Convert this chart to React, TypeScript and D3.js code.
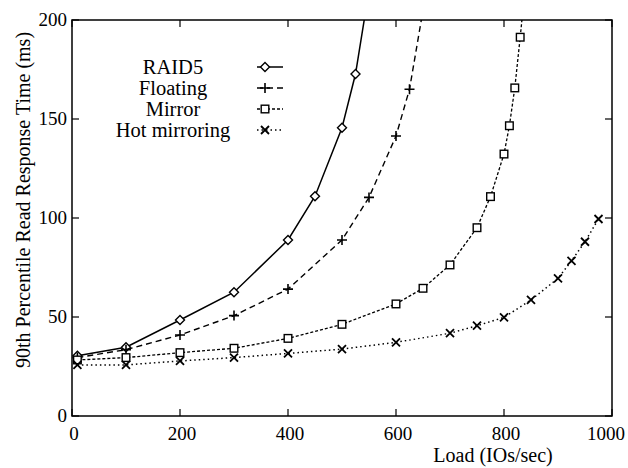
import * as d3 from "d3";

const xTicks = [0, 200, 400, 600, 800, 1000];
const yTicks = [0, 50, 100, 150, 200];

const raid5 = [
  [10, 30.4], [100, 34.7], [200, 48.5], [300, 62.5], [400, 88.9],
  [450, 111], [500, 145.6], [525, 172.7], [550, 215],
];
const floating = [
  [10, 29.5], [100, 33.5], [200, 40.9], [300, 50.7], [400, 64.1],
  [500, 88.9], [550, 110.4], [600, 141.4], [625, 165], [650, 205],
];
const mirror = [
  [10, 28.3], [100, 29.5], [200, 32], [300, 34.2], [400, 39.2],
  [500, 46.3], [600, 56.6], [650, 64.5], [700, 76.3], [750, 95.1],
  [775, 110.8], [800, 132.3], [810, 146.6], [820, 165.7], [830, 191.3], [835, 205],
];
const hotMirroring = [
  [10, 25.8], [100, 25.8], [200, 27.8], [300, 29.5], [400, 31.6],
  [500, 33.8], [600, 37.2], [700, 41.8], [750, 45.6], [800, 49.8],
  [850, 58.6], [900, 69.5], [925, 78.4], [950, 88], [975, 99.5],
];

const seriesNames = ["RAID5", "Floating", "Mirror", "Hot mirroring"];

const W = 628, H = 468;
const L = 72, R = 612, T = 20, B = 416;
const FONT = "'Liberation Serif', 'Times New Roman', serif";

type Pt = number[];

function Marker({ kind, x, y }: { kind: string; x: number; y: number }) {
  if (kind === "diamond")
    return <path d={`M${x},${y - 4.5}L${x + 4.5},${y}L${x},${y + 4.5}L${x - 4.5},${y}Z`} fill="white" stroke="black" strokeWidth={1.4} />;
  if (kind === "plus")
    return <path d={`M${x - 5},${y}H${x + 5}M${x},${y - 5}V${y + 5}`} stroke="black" strokeWidth={1.6} />;
  if (kind === "square")
    return <rect x={x - 3.8} y={y - 3.8} width={7.6} height={7.6} fill="white" stroke="black" strokeWidth={1.4} />;
  return <path d={`M${x - 4},${y - 4}L${x + 4},${y + 4}M${x + 4},${y - 4}L${x - 4},${y + 4}`} stroke="black" strokeWidth={1.8} />;
}

export default function App() {
  const x = d3.scaleLinear().domain([0, 1000]).range([L, R]);
  const y = d3.scaleLinear().domain([0, 200]).range([B, T]);
  const line = d3.line<Pt>().x((d) => x(d[0])).y((d) => y(d[1]));

  const series = [
    { data: raid5, kind: "diamond", dash: "none", sw: 1.5 },
    { data: floating, kind: "plus", dash: "6,4", sw: 1.4 },
    { data: mirror, kind: "square", dash: "3,2", sw: 1.3 },
    { data: hotMirroring, kind: "cross", dash: "1.5,3", sw: 1.5 },
  ];

  return (
    <svg width={W} height={H} style={{ position: "absolute", left: 0, top: 0, background: "white" }} fontFamily={FONT}>
      <defs>
        <clipPath id="plot">
          <rect x={L} y={T} width={R - L} height={B - T} />
        </clipPath>
      </defs>
      <rect x={L} y={T} width={R - L} height={B - T} fill="none" stroke="black" strokeWidth={1.5} />
      {xTicks.map((t, i) => (
        <g key={"x" + t}>
          <line x1={x(t)} x2={x(t)} y1={B} y2={B - 7} stroke="black" strokeWidth={1.2} />
          <line x1={x(t)} x2={x(t)} y1={T} y2={T + 7} stroke="black" strokeWidth={1.2} />
          {i === xTicks.length - 1 ? (
            <text x={W - 3} y={B + 24} textAnchor="end" fontSize={19}>{t}</text>
          ) : (
            <text x={x(t) + 2} y={B + 24} textAnchor="middle" fontSize={19}>{t}</text>
          )}
        </g>
      ))}
      {yTicks.map((t) => (
        <g key={"y" + t}>
          <line x1={L} x2={L + 7} y1={y(t)} y2={y(t)} stroke="black" strokeWidth={1.2} />
          <line x1={R} x2={R - 7} y1={y(t)} y2={y(t)} stroke="black" strokeWidth={1.2} />
          <text x={L - 5} y={y(t) + 6} textAnchor="end" fontSize={19}>{t}</text>
        </g>
      ))}
      <text x={493} y={462} textAnchor="middle" fontSize={20}>Load (IOs/sec)</text>
      <text transform={`translate(30,200) rotate(-90)`} textAnchor="middle" fontSize={20}>
        90th Percentile Read Response Time (ms)
      </text>
      <g clipPath="url(#plot)">
        {series.map((s, i) => (
          <g key={i}>
            <path d={line(s.data) || ""} fill="none" stroke="black" strokeWidth={s.sw} strokeDasharray={s.dash} />
            {s.data.map((d, j) => (
              <Marker key={j} kind={s.kind} x={x(d[0])} y={y(d[1])} />
            ))}
          </g>
        ))}
      </g>
      {series.map((s, i) => {
        const ly = 67 + i * 21;
        return (
          <g key={"lg" + i}>
            <text x={173} y={ly + 7} textAnchor="middle" fontSize={20.5}>{seriesNames[i]}</text>
            <line x1={257} x2={283} y1={ly} y2={ly} stroke="black" strokeWidth={s.sw} strokeDasharray={s.dash} />
            <Marker kind={s.kind} x={265} y={ly} />
          </g>
        );
      })}
    </svg>
  );
}
